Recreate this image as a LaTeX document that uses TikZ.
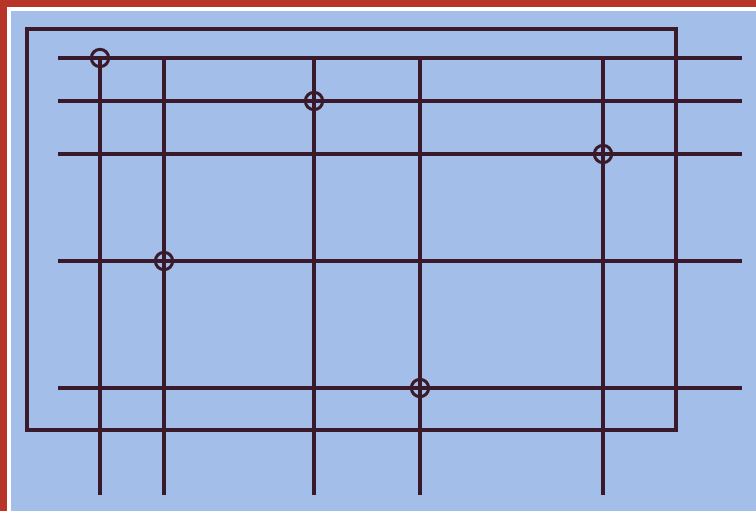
\documentclass[tikz,border=0pt]{standalone}
\definecolor{paper}{RGB}{164, 190, 234}
\definecolor{edge}{RGB}{185, 52, 40}
\definecolor{wire}{RGB}{58, 26, 42}
\usetikzlibrary{positioning}

\begin{document}
\begin{tikzpicture}[
        x=0.3mm, y=-0.3mm,
        wire/.style={draw=wire, line width=1.2mm},
        via/.style={circle, draw=wire, line width=0.9mm, minimum size=5.2mm, inner sep=0pt}
    ]
        % Background and red page edge
        \fill[paper] (0,0) rectangle (756,511);
        \useasboundingbox (0,0) rectangle (756,511);
        \fill[white] (0,0) rectangle (756,11);
        \fill[white] (0,0) rectangle (11,511);
        \fill[edge] (0,0) rectangle (756,7);
        \fill[edge] (0,0) rectangle (7,511);

        % Outer frame
        \draw[wire] (27,29) rectangle (676,430);

        % Horizontal wires
        \foreach \y [count=\i] in {58, 101, 154, 261, 388} {
            \coordinate (w\i) at (58,\y);
            \coordinate (e\i) at (742,\y);
            \draw[wire] (w\i) -- (e\i);
        }

        % Vertical wires
        \foreach \x [count=\i] in {100, 164, 314, 420, 603} {
            \coordinate (n\i) at (\x,58);
            \coordinate (s\i) at (\x,495);
            \draw[wire] (n\i) -- (s\i);
        }

        % Vias at the connected crossings
        \node[via] (via1) at (100,58) {};
        \node[via] (via2) at (314,101) {};
        \node[via] (via3) at (603,154) {};
        \node[via] (via4) at (164,261) {};
        \node[via] (via5) at (420,388) {};
    \end{tikzpicture}
\end{document}
